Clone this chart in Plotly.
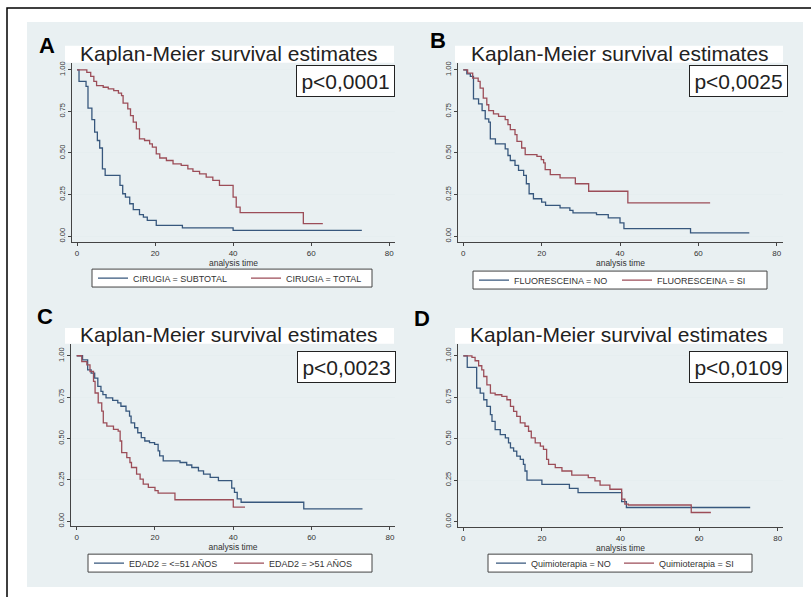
import plotly.graph_objects as go

W, H = 811, 597

# ---------------- data ----------------
A_SUB_T = [0, 0.5, 2.3, 2.8, 3.8, 4.5, 5.2, 5.8, 6.5, 7.2, 11, 11.7, 12.4, 13.5, 14.4, 16, 17, 18, 20.3, 27, 40, 73]
A_SUB_S = [1.0, 0.93, 0.90, 0.77, 0.70, 0.625, 0.575, 0.53, 0.405, 0.365, 0.305, 0.255, 0.235, 0.195, 0.16, 0.13, 0.115, 0.095, 0.065, 0.05, 0.035, 0.035]
A_TOT_T = [0, 2.5, 3.5, 4.3, 5, 6.7, 8, 9.4, 10.6, 11.4, 11.8, 13, 13.7, 14.4, 15.2, 16, 17.3, 18.6, 19.3, 20.3, 21.2,
           22.9, 24.6, 26.7, 28.4, 29.7, 31.4, 33.1, 34.8, 36.5, 40, 40.8, 41.8, 58, 63]
A_TOT_S = [1.0, 0.985, 0.96, 0.93, 0.905, 0.895, 0.885, 0.875, 0.86, 0.845, 0.80, 0.765, 0.725, 0.685, 0.645, 0.585, 0.575,
           0.555, 0.535, 0.495, 0.47, 0.455, 0.435, 0.425, 0.405, 0.39, 0.375, 0.355, 0.335, 0.305, 0.235, 0.175, 0.142, 0.076, 0.076]

B_NO_T = [0, 0.9, 1.8, 2.6, 3.9, 4.8, 5.6, 6.5, 6.9, 8.2, 10.7, 11.4, 12, 13.2, 14.1, 15.4, 16.1, 16.8, 17.9, 20, 21,
          24.7, 27.2, 28, 34, 37, 40, 41, 58, 73]
B_NO_S = [1.0, 0.975, 0.96, 0.825, 0.795, 0.755, 0.705, 0.685, 0.585, 0.555, 0.525, 0.485, 0.455, 0.425, 0.395, 0.365,
          0.315, 0.255, 0.225, 0.205, 0.185, 0.17, 0.155, 0.14, 0.13, 0.11, 0.08, 0.045, 0.02, 0.02]
B_SI_T = [0, 1.1, 2.4, 3.8, 4.3, 5.1, 6, 6.5, 7.7, 9, 10.7, 11.4, 12, 13.2, 13.7, 14.9, 15.8, 18.8, 19.9, 20.5, 20.9,
          22.2, 24.7, 28.6, 32, 42, 63]
B_SI_S = [1.0, 0.98, 0.95, 0.93, 0.89, 0.83, 0.79, 0.755, 0.735, 0.72, 0.70, 0.67, 0.64, 0.61, 0.57, 0.53, 0.49, 0.48,
          0.46, 0.44, 0.40, 0.37, 0.35, 0.315, 0.27, 0.20, 0.20]

C_LE_T = [0, 1.5, 2.8, 3.7, 4.6, 5.4, 6.2, 6.7, 7.5, 9.2, 10.5, 11.3, 12.6, 13.5, 13.9, 14.8, 15.6, 16.5, 17.4, 18.6,
          19.9, 20.8, 21.2, 22.1, 26.4, 28.1, 29.4, 31.1, 32.4, 34.1, 36.2, 39.6, 40.3, 41, 42, 58, 73]
C_LE_S = [1.0, 0.975, 0.915, 0.895, 0.865, 0.815, 0.785, 0.765, 0.745, 0.73, 0.715, 0.695, 0.665, 0.635, 0.595, 0.565,
          0.535, 0.505, 0.485, 0.475, 0.465, 0.425, 0.395, 0.365, 0.355, 0.34, 0.325, 0.305, 0.285, 0.265, 0.245, 0.20,
          0.175, 0.135, 0.115, 0.075, 0.075]
C_GT_T = [0, 1.3, 2.6, 3.4, 4.3, 4.7, 5.5, 6.4, 6.8, 7.7, 9.4, 10.6, 11.1, 11.5, 12.8, 13.6, 14, 15.3, 16.2, 17, 18.3,
          20, 20.8, 25.1, 40, 43]
C_GT_S = [1.0, 0.965, 0.945, 0.905, 0.845, 0.775, 0.715, 0.665, 0.595, 0.575, 0.555, 0.545, 0.485, 0.415, 0.385, 0.355,
          0.325, 0.285, 0.255, 0.225, 0.205, 0.185, 0.17, 0.13, 0.085, 0.085]

D_NO_T = [0, 1, 3.4, 4.3, 5.2, 6, 6.9, 7.3, 8.1, 9.4, 10.7, 11.5, 12, 12.8, 13.6, 14.5, 15.3, 15.7, 16.2, 20, 27, 29.2,
          40.3, 41.5, 73]
D_NO_S = [1.0, 0.93, 0.805, 0.775, 0.735, 0.695, 0.645, 0.605, 0.555, 0.525, 0.505, 0.475, 0.445, 0.425, 0.395, 0.375,
          0.345, 0.305, 0.25, 0.225, 0.2, 0.175, 0.12, 0.085, 0.085]
D_SI_T = [0, 2.2, 3, 3.9, 4.7, 5.2, 6, 6.9, 8.1, 9.8, 11.1, 12, 12.8, 13.6, 14.5, 15.7, 16.6, 17.3, 18.3, 19.6, 20.4,
          21.2, 21.7, 23.4, 25.1, 27.6, 31.8, 33.5, 34.8, 37.3, 40.3, 41.1, 42, 58, 63]
D_SI_S = [1.0, 0.99, 0.97, 0.94, 0.915, 0.875, 0.825, 0.775, 0.765, 0.755, 0.735, 0.695, 0.665, 0.635, 0.595, 0.575,
          0.545, 0.505, 0.475, 0.455, 0.435, 0.375, 0.345, 0.325, 0.305, 0.28, 0.265, 0.245, 0.22, 0.195, 0.135, 0.105,
          0.10, 0.055, 0.055]

LETTERS = ["A", "B", "C", "D"]
TITLE = "Kaplan-Meier survival estimates"
PVALUES = ["p<0,0001", "p<0,0025", "p<0,0023", "p<0,0109"]
NAMES = [("CIRUGIA = SUBTOTAL", "CIRUGIA = TOTAL"),
         ("FLUORESCEINA = NO", "FLUORESCEINA = SI"),
         ("EDAD2 = <=51 AÑOS", "EDAD2 = >51 AÑOS"),
         ("Quimioterapia = NO", "Quimioterapia = SI")]
SERIES = [((A_SUB_T, A_SUB_S), (A_TOT_T, A_TOT_S)),
          ((B_NO_T, B_NO_S), (B_SI_T, B_SI_S)),
          ((C_LE_T, C_LE_S), (C_GT_T, C_GT_S)),
          ((D_NO_T, D_NO_S), (D_SI_T, D_SI_S))]
Y_TICKS = [0, 0.25, 0.5, 0.75, 1.0]
Y_TICKTEXT = ["0.00", "0.25", "0.50", "0.75", "1.00"]
X_TICKS = [0, 20, 40, 60, 80]

# ---------------- layout geometry (pixels) ----------------
PANELS = [
    dict(px=(72, 395), py=(62, 242), xr=(-1.3, 81.5), yr=(-0.036, 1.042),
         letter=(47, 45), title=(229, 53), tbox=(65, 394, 45, 62), pbox=(345.5, 80),
         legx=93, lbox=(92, 372, 269, 287), ew=108),
    dict(px=(458, 783), py=(62, 242), xr=(-1.35, 81.6), yr=(-0.036, 1.042),
         letter=(438, 40), title=(620, 53), tbox=(455, 783, 45, 62), pbox=(738.5, 80),
         legx=474, lbox=(473, 767, 271, 289), ew=98),
    dict(px=(71, 395), py=(344, 527), xr=(-1.45, 81.3), yr=(-0.03, 1.072),
         letter=(45, 317), title=(229, 335), tbox=(65, 394, 328, 344), pbox=(346, 367),
         legx=89, lbox=(88, 372, 555, 573), ew=95),
    dict(px=(458, 783), py=(344, 528), xr=(-1.35, 81.35), yr=(-0.034, 1.072),
         letter=(422, 319), title=(619, 335), tbox=(455, 783, 328, 344), pbox=(738.5, 367),
         legx=491, lbox=(488, 752, 555, 573), ew=83),
]

BLUE = "#37577d"
RED = "#9c4d58"
FONT = "Liberation Sans, Arial, sans-serif"


def fx(p):
    return p / W


def fy(p):
    return 1 - p / H


fig = go.Figure()
shapes = []
annotations = []

# outer border and light graph region
shapes.append(dict(type="rect", xref="paper", yref="paper", x0=fx(7), x1=fx(830), y0=fy(7), y1=fy(620),
                   line=dict(color="black", width=1.5), fillcolor="white", layer="below"))
shapes.append(dict(type="rect", xref="paper", yref="paper", x0=fx(27), x1=fx(803), y0=fy(21), y1=fy(588),
                   line=dict(width=0), fillcolor="#e9f0f2", layer="below"))

for i, P in enumerate(PANELS):
    k = "" if i == 0 else str(i + 1)
    legname = "legend" + k
    (t1, s1), (t2, s2) = SERIES[i]
    n1, n2 = NAMES[i]
    for (t, s, n, c) in ((t1, s1, n1, BLUE), (t2, s2, n2, RED)):
        fig.add_trace(go.Scatter(x=t, y=s, mode="lines", name=n,
                                 line=dict(shape="hv", color=c, width=1.3),
                                 xaxis="x" + k, yaxis="y" + k, legend=legname,
                                 hoverinfo="skip"))
    lx0, lx1, ly0, ly1 = P["lbox"]
    fig.update_layout(**{
        "xaxis" + k: dict(domain=[fx(P["px"][0]), fx(P["px"][1])], range=list(P["xr"]),
                          anchor="y" + k, tickvals=X_TICKS, ticks="outside", ticklen=3,
                          tickcolor="#444", showline=True, linecolor="#444", linewidth=1,
                          showgrid=False, zeroline=False,
                          tickfont=dict(size=8, color="#333", family=FONT),
                          title=dict(text="analysis time", standoff=1,
                                     font=dict(size=8.5, color="#333", family=FONT))),
        "yaxis" + k: dict(domain=[fy(P["py"][1]), fy(P["py"][0])], range=list(P["yr"]),
                          anchor="x" + k, tickvals=Y_TICKS, ticktext=Y_TICKTEXT, tickangle=-90,
                          ticks="outside", ticklen=3, tickcolor="#444", showline=True,
                          linecolor="#444", linewidth=1, showgrid=True, gridcolor="#e6eef0",
                          gridwidth=1, zeroline=False,
                          tickfont=dict(size=7.5, color="#333", family=FONT)),
        legname: dict(x=fx(P["legx"]), y=fy((ly0 + ly1) / 2), xanchor="left", yanchor="middle",
                      orientation="h", bgcolor="rgba(0,0,0,0)", borderwidth=0,
                      entrywidth=P["ew"], entrywidthmode="pixels", itemwidth=30,
                      font=dict(size=9, color="#333", family=FONT)),
    })
    # legend frame
    shapes.append(dict(type="rect", xref="paper", yref="paper", x0=fx(lx0), x1=fx(lx1), y0=fy(ly0), y1=fy(ly1),
                       line=dict(color="#444", width=1), fillcolor="white", layer="below"))
    # white title box
    x0, x1, y0, y1 = P["tbox"]
    shapes.append(dict(type="rect", xref="paper", yref="paper", x0=fx(x0), x1=fx(x1), y0=fy(y0), y1=fy(y1),
                       line=dict(width=0), fillcolor="white", layer="below"))
    annotations.append(dict(text=TITLE, xref="paper", yref="paper", x=fx(P["title"][0]), y=fy(P["title"][1]),
                            xanchor="center", yanchor="middle", showarrow=False,
                            font=dict(size=21, color="#222", family=FONT)))
    annotations.append(dict(text="<b>" + LETTERS[i] + "</b>", xref="paper", yref="paper",
                            x=fx(P["letter"][0]), y=fy(P["letter"][1]), xanchor="center", yanchor="middle",
                            showarrow=False, font=dict(size=22, color="black", family=FONT)))
    annotations.append(dict(text=PVALUES[i], xref="paper", yref="paper", x=fx(P["pbox"][0]), y=fy(P["pbox"][1]),
                            xanchor="center", yanchor="middle", showarrow=False, width=95, height=28,
                            borderpad=1, bordercolor="#222", borderwidth=1, bgcolor="white",
                            font=dict(size=21, color="#222", family=FONT)))

fig.update_layout(width=W, height=H, margin=dict(l=0, r=0, t=0, b=0), paper_bgcolor="white",
                  plot_bgcolor="white", shapes=shapes, annotations=annotations, showlegend=True)

fig.write_html("out.html", config={"displayModeBar": False},
               post_script="document.body.style.margin='0px';")
